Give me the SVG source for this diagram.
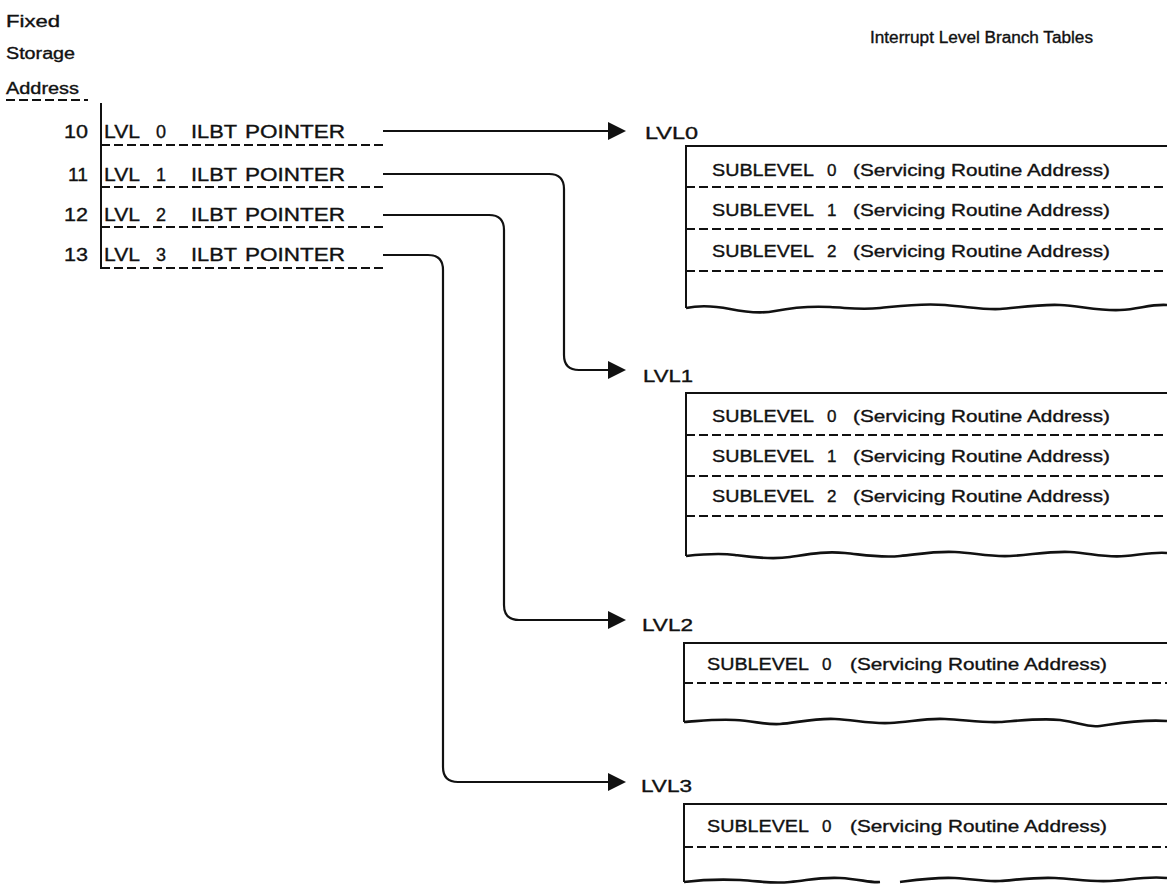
<svg xmlns="http://www.w3.org/2000/svg" width="1167" height="888" viewBox="0 0 1167 888">
<style>
text{font-family:"Liberation Sans",Arial,sans-serif;fill:#111;stroke:#111;stroke-width:0.35;}
.hd{font-size:16px;}
.row{font-size:18px;}
.num{font-size:18px;}
.sub{font-size:17px;}
.lbl{font-size:17px;}
.dash{stroke:#111;stroke-width:1.8;stroke-dasharray:9 4;fill:none;}
.solid{stroke:#111;stroke-width:2;fill:none;}
.wave{stroke:#111;stroke-width:2.6;fill:none;stroke-linejoin:round;}
.conn{stroke:#111;stroke-width:2.2;fill:none;}
.ah{fill:#111;}
</style>
<rect width="1167" height="888" fill="#fff"/>
<g id="header">
<text class="hd" x="6" y="27" textLength="54" lengthAdjust="spacingAndGlyphs">Fixed</text>
<text class="hd" x="6" y="59" textLength="69" lengthAdjust="spacingAndGlyphs">Storage</text>
<text class="hd" x="6" y="94" textLength="73" lengthAdjust="spacingAndGlyphs">Address</text>
<line class="dash" x1="6" y1="100" x2="88" y2="100"/>
<text class="hd" x="870" y="43" textLength="223" lengthAdjust="spacingAndGlyphs">Interrupt Level Branch Tables</text>
</g>
<g id="fixed-storage">
<path class="solid" d="M101,103 V268 H105"/>
<text class="num" x="88" y="138" text-anchor="end" textLength="24" lengthAdjust="spacingAndGlyphs">10</text>
<text class="num" x="88" y="181" text-anchor="end" textLength="20" lengthAdjust="spacingAndGlyphs">11</text>
<text class="num" x="88" y="221" text-anchor="end" textLength="24" lengthAdjust="spacingAndGlyphs">12</text>
<text class="num" x="88" y="261" text-anchor="end" textLength="24" lengthAdjust="spacingAndGlyphs">13</text>
<text class="row" y="138"><tspan x="104" textLength="36" lengthAdjust="spacingAndGlyphs">LVL</tspan><tspan x="156">0</tspan><tspan x="191" textLength="46" lengthAdjust="spacingAndGlyphs">ILBT</tspan><tspan x="245" textLength="100" lengthAdjust="spacingAndGlyphs">POINTER</tspan></text>
<text class="row" y="181"><tspan x="104" textLength="36" lengthAdjust="spacingAndGlyphs">LVL</tspan><tspan x="156">1</tspan><tspan x="191" textLength="46" lengthAdjust="spacingAndGlyphs">ILBT</tspan><tspan x="245" textLength="100" lengthAdjust="spacingAndGlyphs">POINTER</tspan></text>
<text class="row" y="221"><tspan x="104" textLength="36" lengthAdjust="spacingAndGlyphs">LVL</tspan><tspan x="156">2</tspan><tspan x="191" textLength="46" lengthAdjust="spacingAndGlyphs">ILBT</tspan><tspan x="245" textLength="100" lengthAdjust="spacingAndGlyphs">POINTER</tspan></text>
<text class="row" y="261"><tspan x="104" textLength="36" lengthAdjust="spacingAndGlyphs">LVL</tspan><tspan x="156">3</tspan><tspan x="191" textLength="46" lengthAdjust="spacingAndGlyphs">ILBT</tspan><tspan x="245" textLength="100" lengthAdjust="spacingAndGlyphs">POINTER</tspan></text>
<line class="dash" x1="101" y1="145" x2="383" y2="145"/>
<line class="dash" x1="101" y1="187" x2="383" y2="187"/>
<line class="dash" x1="101" y1="227" x2="383" y2="227"/>
<line class="dash" x1="101" y1="268" x2="383" y2="268"/>
</g>
<g id="connectors">
<path class="conn" d="M383,131 H610"/>
<polygon class="ah" points="608,122 626,131 608,140"/>
<path class="conn" d="M383,174 H549 Q564,174 564,189 V355 Q564,370 579,370 H610"/>
<polygon class="ah" points="608,361 626,370 608,379"/>
<path class="conn" d="M383,215 H489 Q504,215 504,230 V605 Q504,620 519,620 H610"/>
<polygon class="ah" points="608,611 626,620 608,629"/>
<path class="conn" d="M383,255 H428 Q443,255 443,270 V767 Q443,782 458,782 H610"/>
<polygon class="ah" points="608,773 626,782 608,791"/>
</g>
<g id="lvl0">
<text class="lbl" x="645" y="139" textLength="53" lengthAdjust="spacingAndGlyphs">LVL0</text>
<path class="solid" d="M1167,146 H686 V308"/>
<text class="sub" y="176"><tspan x="712" textLength="102" lengthAdjust="spacingAndGlyphs">SUBLEVEL</tspan><tspan x="827">0</tspan><tspan x="853" textLength="257" lengthAdjust="spacingAndGlyphs">(Servicing Routine Address)</tspan></text>
<line class="dash" x1="686" y1="187" x2="1167" y2="187"/>
<text class="sub" y="216"><tspan x="712" textLength="102" lengthAdjust="spacingAndGlyphs">SUBLEVEL</tspan><tspan x="827">1</tspan><tspan x="853" textLength="257" lengthAdjust="spacingAndGlyphs">(Servicing Routine Address)</tspan></text>
<line class="dash" x1="686" y1="229" x2="1167" y2="229"/>
<text class="sub" y="257"><tspan x="712" textLength="102" lengthAdjust="spacingAndGlyphs">SUBLEVEL</tspan><tspan x="827">2</tspan><tspan x="853" textLength="257" lengthAdjust="spacingAndGlyphs">(Servicing Routine Address)</tspan></text>
<line class="dash" x1="686" y1="271" x2="1167" y2="271"/>
<path class="wave" d="M686,308 C700,305 715,306 730,309 S760,314 775,311 S810,306 830,307 S860,310 880,308 S920,303 945,305 S985,310 1000,309 S1040,304 1060,305 S1100,311 1120,310 S1150,304 1167,305"/>
</g>
<g id="lvl1">
<text class="lbl" x="643" y="382" textLength="50" lengthAdjust="spacingAndGlyphs">LVL1</text>
<path class="solid" d="M1167,393 H686 V556"/>
<text class="sub" y="422"><tspan x="712" textLength="102" lengthAdjust="spacingAndGlyphs">SUBLEVEL</tspan><tspan x="827">0</tspan><tspan x="853" textLength="257" lengthAdjust="spacingAndGlyphs">(Servicing Routine Address)</tspan></text>
<line class="dash" x1="686" y1="435" x2="1167" y2="435"/>
<text class="sub" y="462"><tspan x="712" textLength="102" lengthAdjust="spacingAndGlyphs">SUBLEVEL</tspan><tspan x="827">1</tspan><tspan x="853" textLength="257" lengthAdjust="spacingAndGlyphs">(Servicing Routine Address)</tspan></text>
<line class="dash" x1="686" y1="476" x2="1167" y2="476"/>
<text class="sub" y="502"><tspan x="712" textLength="102" lengthAdjust="spacingAndGlyphs">SUBLEVEL</tspan><tspan x="827">2</tspan><tspan x="853" textLength="257" lengthAdjust="spacingAndGlyphs">(Servicing Routine Address)</tspan></text>
<line class="dash" x1="686" y1="516" x2="1167" y2="516"/>
<path class="wave" d="M686,556 C705,554 720,553 735,555 S770,560 790,557 S825,551 845,553 S880,558 900,556 S935,551 955,552 S990,557 1010,556 S1050,551 1070,552 S1105,558 1125,556 S1155,552 1167,553"/>
</g>
<g id="lvl2">
<text class="lbl" x="642" y="631" textLength="51" lengthAdjust="spacingAndGlyphs">LVL2</text>
<path class="solid" d="M1167,643 H684 V722"/>
<text class="sub" y="670"><tspan x="707" textLength="102" lengthAdjust="spacingAndGlyphs">SUBLEVEL</tspan><tspan x="822">0</tspan><tspan x="850" textLength="257" lengthAdjust="spacingAndGlyphs">(Servicing Routine Address)</tspan></text>
<line class="dash" x1="684" y1="683" x2="1167" y2="683"/>
<path class="wave" d="M684,722 C700,721 715,719 735,720 S765,725 780,724 S815,718 835,719 S870,724 890,723 S925,718 945,719 S985,723 1000,722 S1040,718 1060,720 S1085,728 1100,726 S1140,719 1167,721"/>
</g>
<g id="lvl3">
<text class="lbl" x="641" y="792" textLength="51" lengthAdjust="spacingAndGlyphs">LVL3</text>
<path class="solid" d="M1167,804 H684 V882"/>
<text class="sub" y="832"><tspan x="707" textLength="102" lengthAdjust="spacingAndGlyphs">SUBLEVEL</tspan><tspan x="822">0</tspan><tspan x="850" textLength="257" lengthAdjust="spacingAndGlyphs">(Servicing Routine Address)</tspan></text>
<line class="dash" x1="684" y1="847" x2="1167" y2="847"/>
<path class="wave" d="M684,882 C700,880 720,879 740,880 S770,884 790,882 S820,877 840,878 S870,883 880,882 M900,882 C915,880 935,877 955,878 S985,882 1000,881 S1035,877 1055,878 S1090,882 1110,881 S1145,876 1167,878"/>
</g>
</svg>
